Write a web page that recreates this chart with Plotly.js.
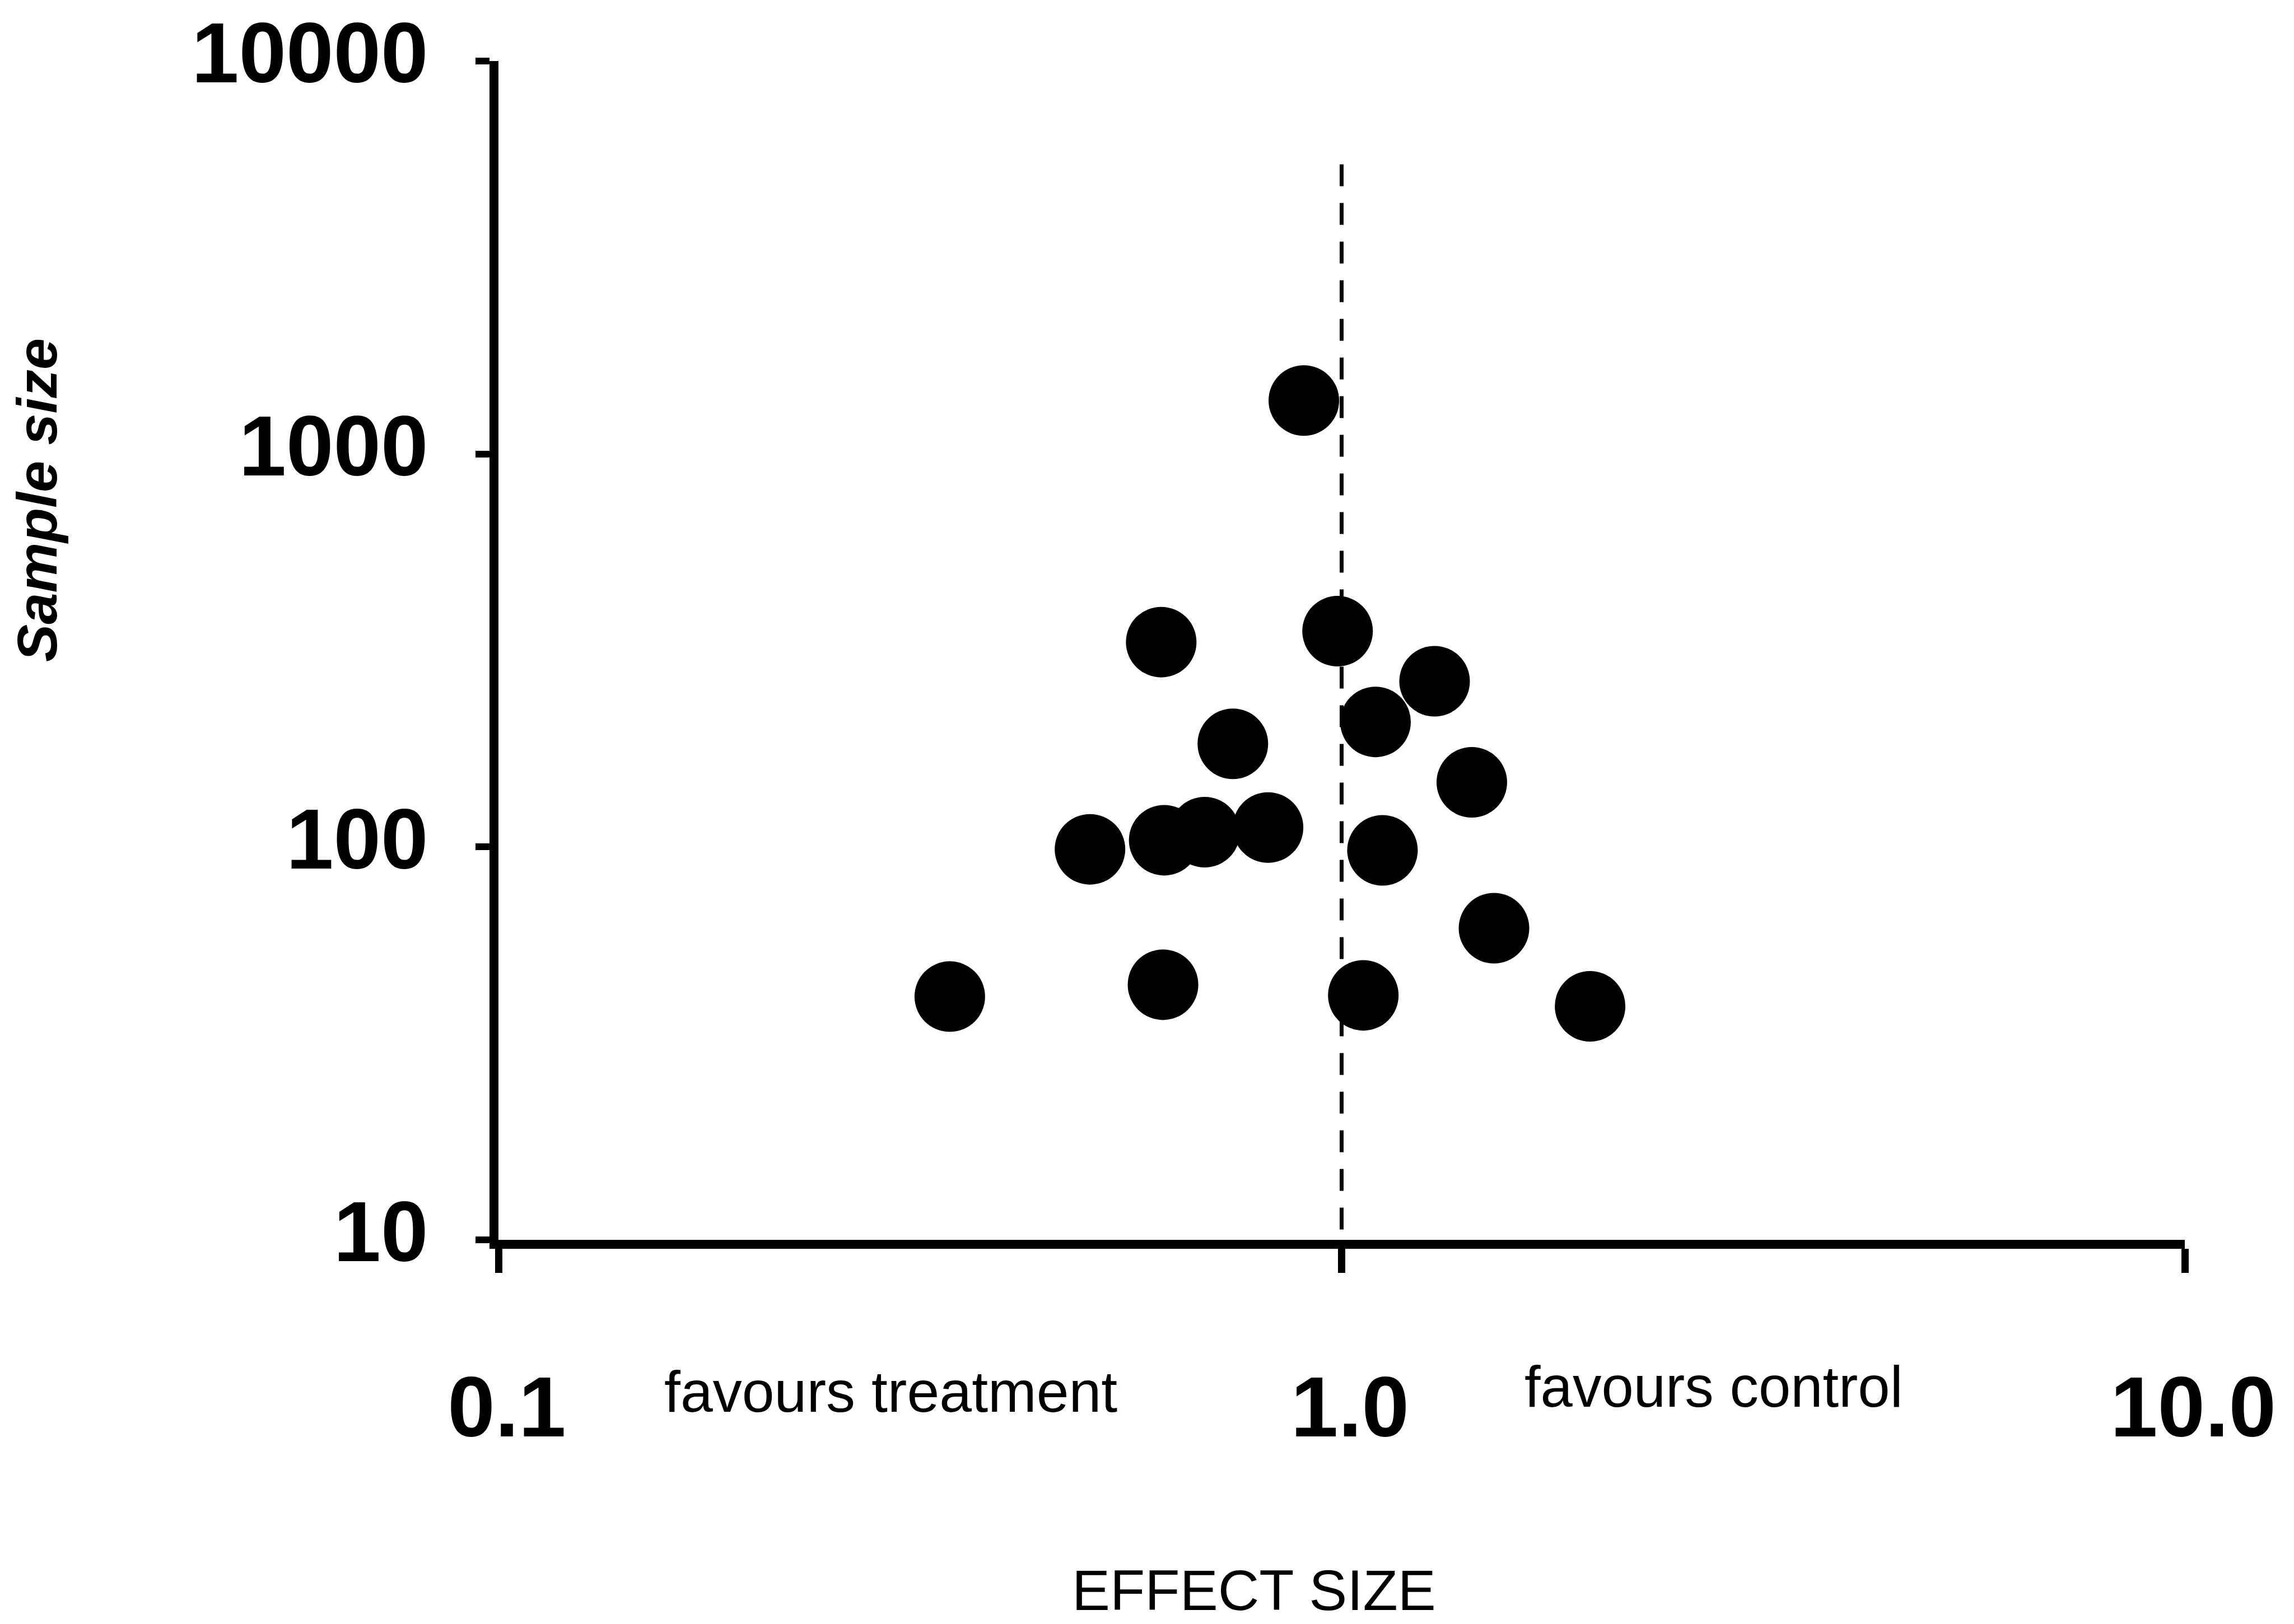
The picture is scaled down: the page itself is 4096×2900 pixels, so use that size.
<!DOCTYPE html>
<html>
<head>
<meta charset="utf-8">
<script src="https://cdn.plot.ly/plotly-3.0.1.min.js"></script>
<style>
  html, body { margin: 0; padding: 0; background: #ffffff; }
  #chart { width: 4096px; height: 2900px; }
</style>
</head>
<body>
<div id="chart"></div>
<script>
// ---- data ----
const effectSize = [0.902, 0.611, 0.989, 1.289, 1.097, 0.743, 1.427, 0.503, 0.616, 0.688, 0.818, 1.118, 1.516, 0.343, 0.614, 1.061, 1.971];
const sampleSize = [1368, 332, 354, 264, 208, 183, 146, 98.6, 104, 109, 112, 98, 62.1, 41.6, 44.6, 41.9, 39.3];

const refLineX = [1, 1];
const refLineY = [5460, 10];

const xTickVals = [0.1, 1, 10];
const xTickText = ['0.1', '1.0', '10.0'];
const yTickVals = [10, 100, 1000, 10000];
const yTickText = ['10', '100', '1000', '10000'];

const xTitle = 'EFFECT SIZE';
const yTitle = 'Sample size';
const leftNote = 'favours treatment';
const rightNote = 'favours control';

// ---- layout geometry ----
const W = 4096, H = 2900;
const M = { l: 890, r: 195, t: 109, b: 686 };
const plotW = W - M.l - M.r;
const plotH = H - M.t - M.b;
const px = x => (x - M.l) / plotW;
const py = y => (H - M.b - y) / plotH;

const traces = [
  {
    type: 'scatter', mode: 'lines',
    x: refLineX, y: refLineY,
    line: { color: '#000000', width: 7, dash: '39px,30px' },
    hoverinfo: 'skip'
  },
  {
    type: 'scatter', mode: 'markers',
    x: effectSize, y: sampleSize,
    marker: { color: '#000000', size: 126, line: { width: 0 } }
  }
];

const tickFont = { family: 'Liberation Sans, Arial, sans-serif', size: 152, color: '#000000', weight: 'bold' };

const layout = {
  width: W, height: H,
  margin: M,
  paper_bgcolor: '#ffffff',
  plot_bgcolor: '#ffffff',
  showlegend: false,
  xaxis: {
    type: 'log',
    range: [-1, 1],
    tickvals: xTickVals,
    ticktext: xTickText,
    ticks: 'outside', ticklen: 43, tickwidth: 13, tickcolor: '#000000',
    showline: true, linewidth: 16, linecolor: '#000000',
    showgrid: false, zeroline: false,
    tickfont: tickFont,
    ticklabelstandoff: 110,
    ticklabelshift: 15
  },
  yaxis: {
    type: 'log',
    range: [1, 4],
    tickvals: yTickVals,
    ticktext: yTickText,
    ticks: 'outside', ticklen: 25, tickwidth: 12, tickcolor: '#000000',
    showline: true, linewidth: 16, linecolor: '#000000',
    showgrid: false, zeroline: false,
    tickfont: tickFont,
    ticklabelstandoff: 54,
    ticklabelshift: -15
  },
  annotations: [
    { text: leftNote, xref: 'paper', yref: 'paper', x: px(1590), y: py(2485),
      xanchor: 'center', yanchor: 'middle', showarrow: false,
      font: { family: 'Liberation Sans, Arial, sans-serif', size: 104, color: '#000000' } },
    { text: rightNote, xref: 'paper', yref: 'paper', x: px(3060), y: py(2476),
      xanchor: 'center', yanchor: 'middle', showarrow: false,
      font: { family: 'Liberation Sans, Arial, sans-serif', size: 103, color: '#000000' } },
    { text: xTitle, xref: 'paper', yref: 'paper', x: px(2239), y: py(2840),
      xanchor: 'center', yanchor: 'middle', showarrow: false,
      font: { family: 'Liberation Sans, Arial, sans-serif', size: 102, color: '#000000' } },
    { text: '<i><b>' + yTitle + '</b></i>', xref: 'paper', yref: 'paper', x: px(66), y: py(893),
      xanchor: 'center', yanchor: 'middle', showarrow: false, textangle: -90,
      font: { family: 'Liberation Sans, Arial, sans-serif', size: 101, color: '#000000' } }
  ]
};

Plotly.newPlot('chart', traces, layout, { staticPlot: true, displayModeBar: false });
</script>
</body>
</html>
